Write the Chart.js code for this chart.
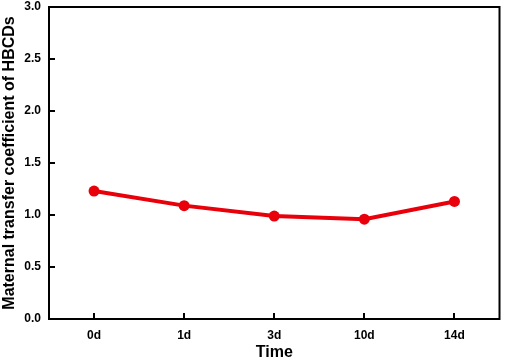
<!DOCTYPE html>
<html>
<head>
<meta charset="utf-8">
<script src="https://cdn.jsdelivr.net/npm/chart.js@4"></script>
<style>
  html, body { margin: 0; padding: 0; background: #fff; }
  #wrap { width: 505px; height: 362px; }
</style>
</head>
<body>
<div id="wrap"><canvas id="chart"></canvas></div>
<script>
// Data
const timeLabels = ['0d', '1d', '3d', '10d', '14d'];
const transferCoef = [1.23, 1.09, 0.99, 0.96, 1.13];
const yTicks = [0, 0.5, 1.0, 1.5, 2.0, 2.5, 3.0];

const fontFamily = 'Arial, "Liberation Sans", sans-serif';

// Box around plot area + inward tick marks
const frame = {
    id: 'frame',
    afterDatasetsDraw(chart) {
        const { ctx, chartArea: a, scales } = chart;
        ctx.save();
        ctx.strokeStyle = '#000';
        ctx.lineWidth = 2;
        ctx.strokeRect(a.left, a.top, a.right - a.left, a.bottom - a.top);
        ctx.beginPath();
        yTicks.forEach(v => {
            const y = Math.round(scales.y.getPixelForValue(v));
            ctx.moveTo(a.left, y);
            ctx.lineTo(a.left + 6, y);
        });
        timeLabels.forEach((_, i) => {
            const x = Math.round(scales.x.getPixelForValue(i));
            ctx.moveTo(x, a.bottom);
            ctx.lineTo(x, a.bottom - 6);
        });
        ctx.stroke();
        ctx.restore();
    }
};

new Chart(document.getElementById('chart'), {
    type: 'line',
    data: {
        labels: timeLabels,
        datasets: [{
            data: transferCoef,
            borderColor: '#e8000b',
            backgroundColor: '#e8000b',
            borderWidth: 4,
            pointRadius: 5.5,
            pointBorderWidth: 0,
            tension: 0
        }]
    },
    options: {
        responsive: true,
        maintainAspectRatio: false,
        animation: false,
        layout: { padding: { top: 7, right: 4, left: 0, bottom: 0 } },
        plugins: { legend: { display: false }, tooltip: { enabled: false } },
        scales: {
            x: {
                offset: true,
                grid: { display: false, drawTicks: false, tickLength: 0 },
                border: { display: false },
                ticks: { color: '#000', padding: 9, font: { family: fontFamily, size: 12, weight: 'bold' } },
                title: { display: true, text: 'Time', color: '#000', padding: { top: 0, bottom: 0 },
                         font: { family: fontFamily, size: 16, weight: 'bold' } },
                afterFit(scale) { scale.height = 43; }
            },
            y: {
                min: 0,
                max: 3,
                afterBuildTicks(scale) { scale.ticks = yTicks.map(v => ({ value: v })); },
                grid: { display: false, drawTicks: false, tickLength: 0 },
                border: { display: false },
                ticks: {
                    color: '#000', padding: 8,
                    font: { family: fontFamily, size: 12, weight: 'bold' },
                    callback: v => v.toFixed(1)
                },
                title: { display: true, text: 'Maternal transfer coefficient of HBCDs', color: '#000',
                         padding: { top: 0, bottom: 0 },
                         font: { family: fontFamily, size: 16, weight: 'bold' } },
                afterFit(scale) {
                    scale.width = 49;
                    scale.paddingTop = 0;
                    scale.paddingBottom = 0;
                }
            }
        }
    },
    plugins: [frame]
});
</script>
</body>
</html>
